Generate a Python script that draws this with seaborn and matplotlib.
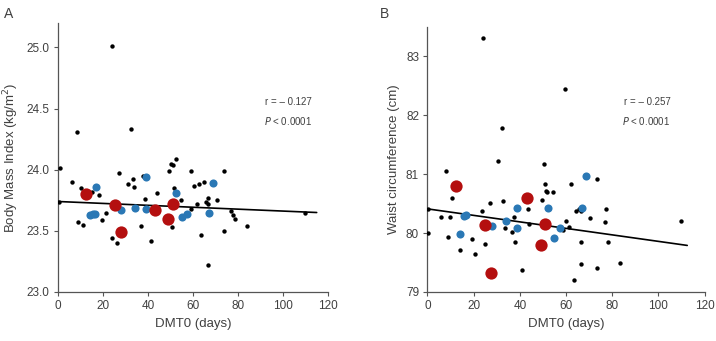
import numpy as np
import matplotlib
matplotlib.use("Agg")
import matplotlib.pyplot as plt
import seaborn as sns

# Panel A : BMI vs DMT0
a_black_x = [0.6, 0.9, 6.4, 8.4, 8.9, 10.4, 11, 15, 18.1, 19.7, 21.2, 23.9, 24, 26.2, 27.3, 31,
             32.4, 33.2, 33.8, 37, 37.9, 38.5, 41.2, 44.1, 49.5, 50.2, 51.1, 52.4, 51.7, 50.7,
             54.8, 59, 59, 60.4, 61.6, 62.7, 65, 63.7, 65.8, 66.8, 66.8, 66.8, 70.7, 73.8, 73.6,
             77, 77.9, 78.8, 84.1, 109.8]
a_black_y = [23.74, 24.01, 23.90, 24.31, 23.57, 23.85, 23.55, 23.82, 23.79, 23.59, 23.65, 25.01,
             23.44, 23.40, 23.97, 23.88, 24.33, 23.92, 23.86, 23.54, 23.95, 23.76, 23.42, 23.81,
             23.99, 24.05, 24.04, 24.09, 23.85, 23.53, 23.75, 23.99, 23.68, 23.87, 23.72, 23.88,
             23.90, 23.47, 23.74, 23.77, 23.72, 23.22, 23.75, 23.99, 23.50, 23.66, 23.63, 23.60,
             23.54, 23.65]
a_blue_x = [17, 14.2, 15.6, 16.3, 27.9, 34.1, 39, 39, 52.3, 55.1, 57.5, 67.3, 69]
a_blue_y = [23.86, 23.63, 23.64, 23.64, 23.67, 23.69, 23.94, 23.68, 23.81, 23.61, 23.64, 23.65, 23.89]
a_red_x = [12.6, 25.2, 27.9, 43.1, 48.7, 51.3]
a_red_y = [23.80, 23.71, 23.49, 23.67, 23.60, 23.72]
a_line_x = [0, 115]
a_line_y = [23.74, 23.65]

# Panel B : waist circumference vs DMT0
b_black_x = [0.4, 0.4, 5.9, 8, 8.7, 9.9, 10.6, 14.3, 19.3, 20.7, 23.6, 24.8, 26.9, 30.7, 32.2,
             32.8, 33.5, 37.4, 36.8, 38.1, 40.9, 43.5, 43.8, 49.7, 50.3, 50.7, 51.4, 51.9, 54.3,
             58.8, 59.9, 61.2, 62, 63.3, 64.5, 65.6, 66.4, 66.4, 66.4, 70.3, 73.3, 73.6, 76.8,
             77.4, 78.4, 83.6, 109.6, 24.1, 59.4]
b_black_y = [80.41, 80.00, 80.27, 81.06, 79.94, 80.27, 80.59, 79.71, 79.90, 79.64, 80.37, 79.81,
             80.51, 81.22, 81.78, 80.55, 80.08, 80.27, 80.02, 79.85, 79.37, 80.41, 80.15, 80.56,
             81.17, 80.84, 80.72, 80.70, 80.69, 80.05, 80.20, 80.11, 80.84, 79.21, 80.38, 80.40,
             80.37, 79.85, 79.47, 80.26, 79.41, 80.92, 80.19, 80.40, 79.85, 79.50, 80.21, 83.30,
             82.45]
b_blue_x = [14.1, 15.9, 16.8, 27.8, 33.9, 38.8, 38.7, 52.2, 54.8, 57.5, 67, 68.7]
b_blue_y = [79.98, 80.29, 80.31, 80.12, 80.21, 80.08, 80.43, 80.42, 79.92, 80.09, 80.43, 80.97]
b_red_x = [12.3, 24.9, 27.7, 43, 49, 51]
b_red_y = [80.79, 80.13, 79.32, 80.60, 79.80, 80.16]
b_line_x = [0, 112.5]
b_line_y = [80.41, 79.79]

red = "#B40F0F"
blue = "#2A78B5"
txt = "#404040"

sns.set_style("white")
plt.rcParams['font.family'] = ['Liberation Sans', 'DejaVu Sans']

fig = plt.figure(figsize=(7.16, 3.41), dpi=100)
axA = fig.add_axes([0.081, 0.1437, 0.377, 0.789])
axB = fig.add_axes([0.597, 0.1437, 0.387, 0.778])


def draw(ax, bx, by, ux, uy, rx, ry, lx, ly):
    sns.scatterplot(x=bx, y=by, ax=ax, color="black", s=10, linewidth=0, zorder=3)
    sns.lineplot(x=lx, y=ly, ax=ax, color="black", linewidth=1.2, zorder=4)
    sns.scatterplot(x=ux, y=uy, ax=ax, color=blue, s=34, linewidth=0, zorder=5)
    sns.scatterplot(x=rx, y=ry, ax=ax, color=red, s=78, linewidth=0, zorder=6)
    sns.despine(ax=ax)
    for s in ["left", "bottom"]:
        ax.spines[s].set_color("#555555")
        ax.spines[s].set_linewidth(0.9)
    ax.set_xlim(0, 120)
    ax.set_xticks(range(0, 121, 20))
    ax.tick_params(direction="out", length=3, width=0.8, color="#555555",
                   labelsize=8.5, labelcolor=txt, bottom=True, left=True, pad=3)
    ax.set_xlabel("DMT0 (days)", fontsize=9.5, color=txt)


draw(axA, a_black_x, a_black_y, a_blue_x, a_blue_y, a_red_x, a_red_y, a_line_x, a_line_y)
axA.set_ylim(23.0, 25.2)
axA.set_yticks([23.0, 23.5, 24.0, 24.5, 25.0])
axA.set_yticklabels(["23.0", "23.5", "24.0", "24.5", "25.0"])
axA.set_ylabel("Body Mass Index (kg/m$^2$)", fontsize=9.5, color=txt)
axA.text(0.941, 0.707, "r = \u2013 0.127", transform=axA.transAxes, ha="right", va="center",
         fontsize=7, color=txt)
axA.text(0.941, 0.637, "$P$ < 0.0001", transform=axA.transAxes, ha="right", va="center",
         fontsize=7, color=txt)

draw(axB, b_black_x, b_black_y, b_blue_x, b_blue_y, b_red_x, b_red_y, b_line_x, b_line_y)
axB.set_ylim(79, 83.5)
axB.set_yticks([79, 80, 81, 82, 83])
axB.set_ylabel("Waist circumference (cm)", fontsize=9.5, color=txt)
axB.text(0.878, 0.718, "r = \u2013 0.257", transform=axB.transAxes, ha="right", va="center",
         fontsize=7, color=txt)
axB.text(0.878, 0.646, "$P$ < 0.0001", transform=axB.transAxes, ha="right", va="center",
         fontsize=7, color=txt)

fig.text(0.006, 0.96, "A", fontsize=10, color=txt, va="center")
fig.text(0.53, 0.96, "B", fontsize=10, color=txt, va="center")

fig.savefig("out.png", dpi=100)
